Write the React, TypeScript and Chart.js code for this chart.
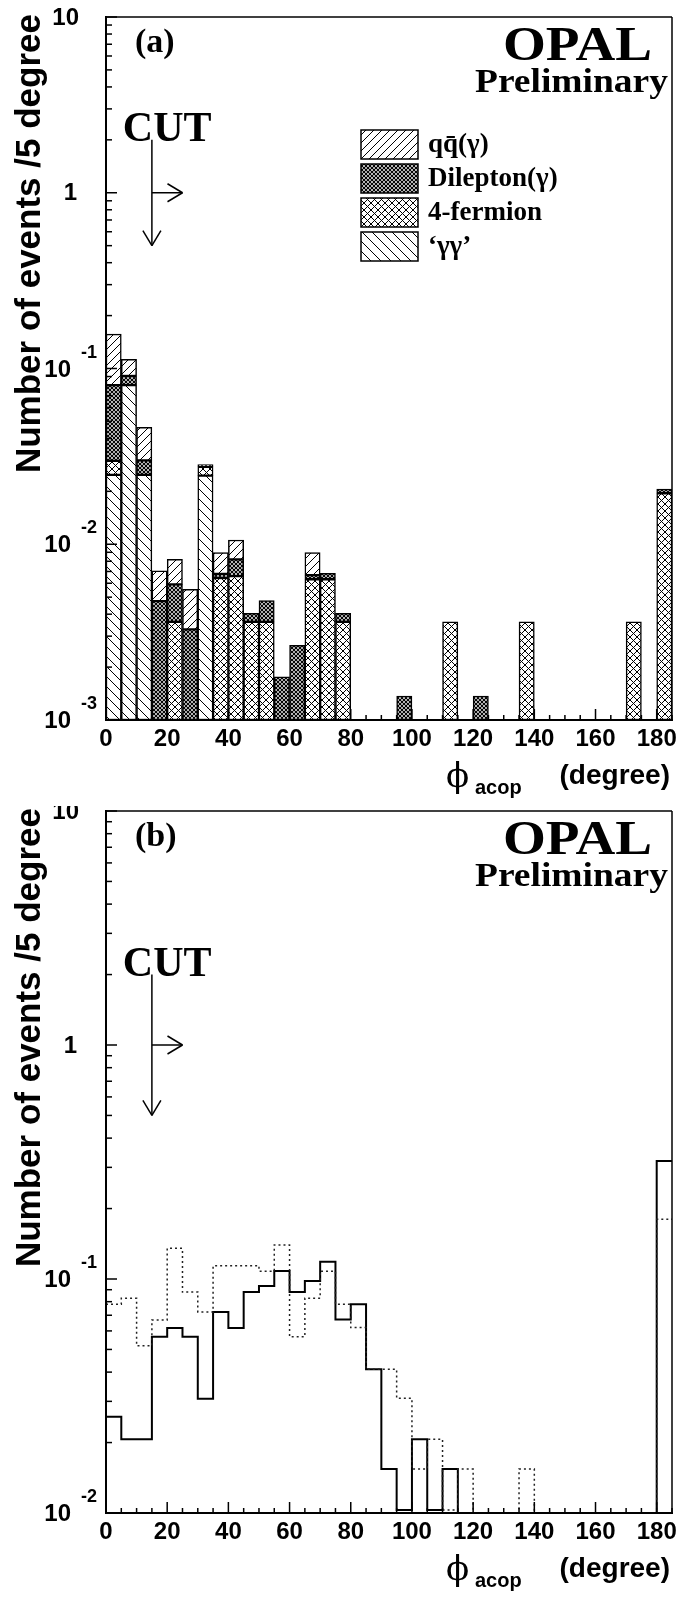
import React, { useEffect, useRef } from 'react';
import { Chart, registerables } from 'chart.js';

Chart.register(...registerables);

// ---------- data ----------
const BIN_LOW = [0, 5, 10, 15, 20, 25, 30, 35, 40, 45, 50, 55, 60, 65, 70, 75, 80, 85, 90, 95, 100, 105, 110, 115, 120, 125, 130, 135, 140, 145, 150, 155, 160, 165, 170, 175, 180];
const X_MIN = 0;
const X_MAX = 185;
const X_MINOR_STEP = 5;
const X_MAJOR_STEP = 20;
const CUT_DEG = 15;

// panel (a): stacked MC contributions per 5-degree bin (bottom to top)
const GG_A = [
  0.0248, 0.0805, 0.0248, null, null, null, 0.02455, null, null, null,
  null, null, null, null, null, null, null, null, null, null,
  null, null, null, null, null, null, null, null, null, null,
  null, null, null, null, null, null, null,
];
const FOURF_A = [
  0.005, null, null, null, 0.00362, null, 0.00305, 0.00643, 0.00659, 0.00362,
  0.00362, null, null, 0.00632, 0.00632, 0.00362, null, null, null, null,
  null, null, 0.00362, null, null, null, null, 0.00362, null, null,
  null, null, null, null, 0.00362, null, 0.0195,
];
const DILEP_A = [
  0.0507, 0.0101, 0.0052, 0.00475, 0.00229, 0.00328, 0.0008, 0.00035, 0.00161, 0.00042,
  0.00116, 0.00176, 0.00266, 0.00036, 0.00052, 0.00042, null, null, null, 0.00137,
  null, null, null, null, 0.00137, null, null, null, null, null,
  null, null, null, null, null, null, 0.0011,
];
const QQ_A = [
  0.0765, 0.0221, 0.0162, 0.00232, 0.00229, 0.00226, null, 0.00218, 0.00237, null,
  null, null, null, 0.00228, null, null, null, null, null, null,
  null, null, null, null, null, null, null, null, null, null,
  null, null, null, null, null, null, null,
];
const LEGEND_LABELS = ['qq\u0304(\u03b3)', 'Dilepton(\u03b3)', '4-fermion', '\u2018\u03b3\u03b3\u2019'];

// panel (b): two histograms
const SOLID_B = [
  0.0258, 0.02065, 0.02065, 0.0566, 0.0618, 0.0566, 0.0308, 0.0723, 0.0618, 0.0879,
  0.0933, 0.1082, 0.0879, 0.098, 0.1186, 0.0672, 0.078, 0.0411, 0.0154, 0.0103,
  0.02065, 0.0103, 0.0154, 0, 0, 0, 0, 0, 0, 0,
  0, 0, 0, 0, 0, 0, 0.319,
];
const DOTTED_B = [
  0.078, 0.0827, 0.0518, 0.0668, 0.1352, 0.0879, 0.0723, 0.114, 0.114, 0.114,
  0.108, 0.1397, 0.0566, 0.0827, 0.108, 0.078, 0.062, 0.0411, 0.0411, 0.0309,
  0.0154, 0.02065, 0.0103, 0.0154, 0, 0, 0, 0.0154, 0, 0,
  0, 0, 0, 0, 0, 0, 0.18,
];

const Y_MIN_A = 0.001;
const Y_MAX_A = 10;
const Y_MIN_B = 0.01;
const Y_MAX_B = 10;

const Y_TITLE = 'Number of events /5 degree';

// ---------- helpers ----------
const SANS = "'Liberation Sans', Arial, Helvetica, sans-serif";
const SERIF = "'Liberation Serif', 'Times New Roman', serif";

function makeHatch(kind: string): any {
  const size = kind === 'fwd' ? 8 : kind === 'back' ? 10 : kind === 'cross' ? 7 : 4;
  const c = document.createElement('canvas');
  c.width = size;
  c.height = size;
  const g = c.getContext('2d') as CanvasRenderingContext2D;
  g.fillStyle = '#fff';
  g.fillRect(0, 0, size, size);
  g.strokeStyle = '#000';
  g.lineWidth = kind === 'dense' ? 1.2 : 1;
  const s = size;
  const fwd = () => {
    g.beginPath();
    g.moveTo(-1, s + 1); g.lineTo(s + 1, -1);
    g.moveTo(-1, 1); g.lineTo(1, -1);
    g.moveTo(s - 1, s + 1); g.lineTo(s + 1, s - 1);
    g.stroke();
  };
  const back = () => {
    g.beginPath();
    g.moveTo(-1, -1); g.lineTo(s + 1, s + 1);
    g.moveTo(-1, s - 1); g.lineTo(1, s + 1);
    g.moveTo(s - 1, -1); g.lineTo(s + 1, 1);
    g.stroke();
  };
  if (kind === 'fwd') fwd();
  else if (kind === 'back') back();
  else { fwd(); back(); }
  return g.createPattern(c, 'repeat');
}

function fitText(ctx: CanvasRenderingContext2D, text: string, font: string, xRight: number, yBase: number, width: number) {
  ctx.save();
  ctx.font = font;
  ctx.textAlign = 'right';
  ctx.textBaseline = 'alphabetic';
  const w = ctx.measureText(text).width;
  ctx.translate(xRight, yBase);
  ctx.scale(width / w, 1);
  ctx.fillText(text, 0, 0);
  ctx.restore();
}

function line(ctx: CanvasRenderingContext2D, x1: number, y1: number, x2: number, y2: number) {
  ctx.beginPath();
  ctx.moveTo(x1, y1);
  ctx.lineTo(x2, y2);
  ctx.stroke();
}

function makeDecorPlugin(tag: string, xId: string, legendItems: any[] | null) {
  return {
    id: 'decor' + tag,
    afterDraw(chart: any) {
      const ctx: CanvasRenderingContext2D = chart.ctx;
      const { left, right, top, bottom } = chart.chartArea;
      const xs = chart.scales[xId];
      const ys = chart.scales.y;
      ctx.save();
      ctx.strokeStyle = '#000';
      ctx.fillStyle = '#000';

      // frame
      ctx.lineWidth = 1.5;
      line(ctx, left, top, right, top);
      line(ctx, right, top, right, bottom);
      ctx.lineWidth = 2;
      line(ctx, left, top - 1, left, bottom + 1);
      line(ctx, left - 1, bottom, right + 1, bottom);

      // x ticks (inward)
      ctx.lineWidth = 1.5;
      for (let v = X_MIN; v <= X_MAX; v += X_MINOR_STEP) {
        const px = xs.getPixelForValue(v);
        const len = v % X_MAJOR_STEP === 0 ? 11 : 5;
        line(ctx, px, bottom, px, bottom - len);
      }

      // y ticks + labels (log)
      const lo = Math.round(Math.log10(ys.min));
      const hi = Math.round(Math.log10(ys.max));
      for (let e = lo; e <= hi; e++) {
        const dec = Math.pow(10, e);
        const py = ys.getPixelForValue(dec);
        ctx.lineWidth = 1.5;
        line(ctx, left, py, left + 11, py);
        if (e < hi) {
          for (let m = 2; m <= 9; m++) {
            const p2 = ys.getPixelForValue(m * dec);
            line(ctx, left, p2, left + 6, p2);
          }
        }
        ctx.font = 'bold 24px ' + SANS;
        if (e === 0 || e === 1) {
          ctx.textAlign = 'right';
          ctx.textBaseline = 'middle';
          ctx.fillText(String(dec), left - (e === 0 ? 29 : 27), py + 1);
        } else {
          ctx.textAlign = 'right';
          ctx.textBaseline = 'alphabetic';
          ctx.fillText('10', left - 35, py + 8);
          ctx.font = 'bold 18px ' + SANS;
          ctx.textAlign = 'left';
          ctx.fillText(String(e), left - 25, py - 11);
        }
      }

      // y title
      ctx.save();
      ctx.font = 'bold 35px ' + SANS;
      ctx.textAlign = 'right';
      ctx.textBaseline = 'alphabetic';
      ctx.translate(40, top - 3);
      ctx.rotate(-Math.PI / 2);
      ctx.fillText(Y_TITLE, 0, 0);
      ctx.restore();

      // x title
      ctx.textBaseline = 'alphabetic';
      ctx.textAlign = 'right';
      ctx.font = 'bold 28px ' + SANS;
      ctx.fillText('(degree)', right - 2, bottom + 64);
      ctx.textAlign = 'left';
      ctx.font = 'bold 20px ' + SANS;
      ctx.fillText('acop', right - 197, bottom + 74);
      ctx.font = "34px 'DejaVu Serif', " + SERIF;
      ctx.fillText('\u03d5', right - 226, bottom + 67);

      // panel tag
      ctx.font = 'bold 34px ' + SERIF;
      ctx.textAlign = 'left';
      ctx.fillText('(' + tag + ')', left + 29, top + 35);

      // OPAL / Preliminary
      fitText(ctx, 'OPAL', 'bold 48px ' + SERIF, right - 20, top + 43, 149);
      fitText(ctx, 'Preliminary', 'bold 33px ' + SERIF, right - 4, top + 75, 193);

      // CUT arrow (placed in data coordinates)
      const xc = xs.getPixelForValue(CUT_DEG);
      const xe = xs.getPixelForValue(CUT_DEG + 10);
      const yTop = ys.getPixelForValue(2);
      const yBot = ys.getPixelForValue(0.5);
      const yMid = ys.getPixelForValue(1);
      ctx.lineWidth = 1.5;
      line(ctx, xc, yTop, xc, yBot);
      line(ctx, xc - 9, yBot - 15, xc, yBot);
      line(ctx, xc + 9, yBot - 15, xc, yBot);
      line(ctx, xc, yMid, xe, yMid);
      line(ctx, xe - 15, yMid - 9, xe, yMid);
      line(ctx, xe - 15, yMid + 9, xe, yMid);
      ctx.font = 'bold 42px ' + SERIF;
      ctx.textAlign = 'center';
      ctx.fillText('CUT', xs.getPixelForValue(CUT_DEG + 5), yTop + 1);

      // legend
      if (legendItems) {
        const bx = left + 255;
        let by = top + 113;
        for (const it of legendItems) {
          ctx.fillStyle = it.fill;
          ctx.fillRect(bx, by, 57, 29);
          ctx.fillStyle = '#000';
          ctx.lineWidth = 1.5;
          ctx.strokeRect(bx, by, 57, 29);
          ctx.font = 'bold 27px ' + SERIF;
          ctx.textAlign = 'left';
          ctx.textBaseline = 'middle';
          ctx.fillText(it.label, bx + 67, by + 15);
          by += 34;
        }
      }
      ctx.restore();
    },
  };
}

function xAxisOptions(height: number) {
  return {
    type: 'linear',
    position: 'bottom',
    min: X_MIN,
    max: X_MAX,
    offset: false,
    ticks: {
      stepSize: X_MINOR_STEP,
      autoSkip: false,
      maxRotation: 0,
      padding: 5,
      align: 'center',
      labelOffset: 0,
      color: '#000',
      font: { family: SANS, weight: 'bold', size: 24 },
      callback: (v: any) => (Number(v) % X_MAJOR_STEP === 0 && Number(v) <= 180 ? String(v) : ''),
    },
    grid: { display: false, drawTicks: false, offset: false },
    border: { display: false },
    afterFit: (s: any) => { s.height = height; },
  };
}

function yAxisOptions(min: number, max: number, stacked: boolean) {
  return {
    type: 'logarithmic',
    stacked,
    min,
    max,
    ticks: { display: false },
    grid: { display: false, drawTicks: false },
    border: { display: false },
    afterFit: (s: any) => { s.width = 106; },
  };
}

export default function App() {
  const refA = useRef<HTMLCanvasElement>(null);
  const refB = useRef<HTMLCanvasElement>(null);

  useEffect(() => {
    const pQQ = makeHatch('fwd');
    const pDL = makeHatch('dense');
    const p4F = makeHatch('cross');
    const pGG = makeHatch('back');

    const barCommon = {
      borderColor: '#000',
      borderWidth: 1.5,
      borderSkipped: false,
      barPercentage: 1,
      categoryPercentage: 1,
      xAxisID: 'x',
    };

    const chartA = new Chart(refA.current as HTMLCanvasElement, {
      type: 'bar',
      data: {
        labels: BIN_LOW.map(String),
        datasets: [
          { label: LEGEND_LABELS[3], data: GG_A, backgroundColor: pGG, ...barCommon },
          { label: LEGEND_LABELS[2], data: FOURF_A, backgroundColor: p4F, ...barCommon },
          { label: LEGEND_LABELS[1], data: DILEP_A, backgroundColor: pDL, ...barCommon },
          { label: LEGEND_LABELS[0], data: QQ_A, backgroundColor: pQQ, ...barCommon },
        ],
      } as any,
      options: {
        animation: false,
        responsive: false,
        maintainAspectRatio: false,
        layout: { padding: { left: 0, right: 8, top: 17, bottom: 0 } },
        plugins: { legend: { display: false }, tooltip: { enabled: false } },
        scales: {
          x: { type: 'category', stacked: true, display: false },
          xl: xAxisOptions(86),
          y: yAxisOptions(Y_MIN_A, Y_MAX_A, true),
        },
      } as any,
      plugins: [makeDecorPlugin('a', 'xl', [
        { label: LEGEND_LABELS[0], fill: pQQ },
        { label: LEGEND_LABELS[1], fill: pDL },
        { label: LEGEND_LABELS[2], fill: p4F },
        { label: LEGEND_LABELS[3], fill: pGG },
      ])] as any,
    });

    const toSteps = (vals: number[]) => {
      const pts = BIN_LOW.map((x, i) => ({ x, y: vals[i] > 0 ? vals[i] : Y_MIN_B }));
      pts.push({ x: X_MAX, y: pts[pts.length - 1].y });
      return pts;
    };

    const chartB = new Chart(refB.current as HTMLCanvasElement, {
      type: 'line',
      data: {
        datasets: [
          {
            label: 'dotted',
            data: toSteps(DOTTED_B),
            stepped: 'before',
            borderColor: '#222',
            borderWidth: 1.5,
            borderDash: [2, 3],
            pointRadius: 0,
            fill: false,
          },
          {
            label: 'solid',
            data: toSteps(SOLID_B),
            stepped: 'before',
            borderColor: '#000',
            borderWidth: 2,
            pointRadius: 0,
            fill: false,
          },
        ],
      } as any,
      options: {
        animation: false,
        responsive: false,
        maintainAspectRatio: false,
        layout: { padding: { left: 0, right: 8, top: 5, bottom: 0 } },
        plugins: { legend: { display: false }, tooltip: { enabled: false } },
        scales: {
          x: xAxisOptions(87),
          y: yAxisOptions(Y_MIN_B, Y_MAX_B, false),
        },
      } as any,
      plugins: [makeDecorPlugin('b', 'x', null)] as any,
    });

    return () => {
      chartA.destroy();
      chartB.destroy();
    };
  }, []);

  return (
    <div style={{ position: 'absolute', left: 0, top: 0, width: 680, height: 1600, background: '#fff' }}>
      <canvas ref={refA} width={680} height={806} style={{ position: 'absolute', left: 0, top: 0, width: 680, height: 806 }} />
      <canvas ref={refB} width={680} height={794} style={{ position: 'absolute', left: 0, top: 806, width: 680, height: 794 }} />
    </div>
  );
}
